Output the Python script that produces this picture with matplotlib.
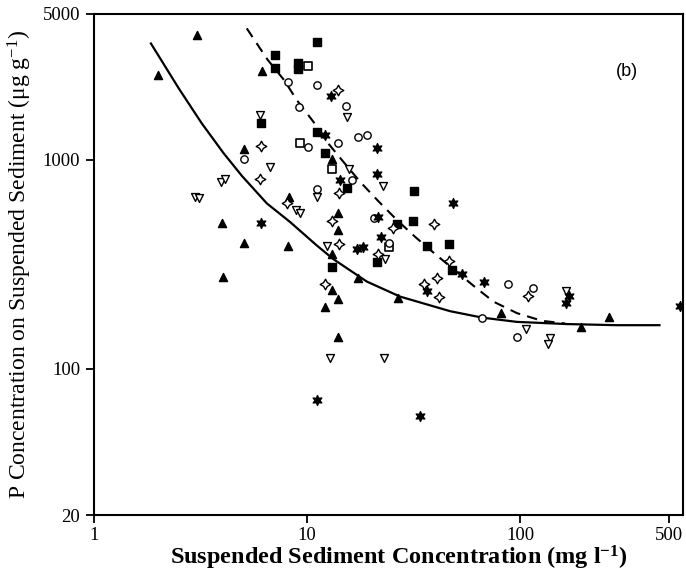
import matplotlib as mpl
import numpy as np
mpl.rcParams.update({'font.family': 'Liberation Serif', 'font.size': 12,
                     'mathtext.default': 'regular'})
from matplotlib import pyplot as plt

# filled triangles
tri_x = [3.03, 2.00, 6.13, 5.04, 13.1, 8.23, 13.98, 13.98, 13.1, 4.00, 5.06, 8.12,
         4.05, 13.1, 13.98, 12.19, 13.98, 17.36, 26.8, 81.2, 260, 193.4]
tri_y = [3960, 2548, 2664, 1124, 1006, 662, 557, 462, 355, 501, 402, 387,
         276, 239, 216, 197, 143, 271, 218, 186, 178, 159]

# filled squares
sq_x = [11.1, 7.08, 7.08, 9.10, 9.10, 6.08, 11.1, 12.19, 15.37, 13.1, 31.8, 31.55,
        26.5, 36.5, 46.1, 21.2, 47.8]
sq_y = [3678, 3176, 2754, 2918, 2714, 1497, 1356, 1083, 736, 306, 710, 510,
        492, 389, 396, 325, 297]

# open squares
osq_x = [10.14, 9.27, 13.1, 24.3]
osq_y = [2814, 1208, 905, 383]

# open circles
circ_x = [8.12, 11.1, 9.17, 13.98, 10.14, 5.04, 11.1, 15.24, 17.3, 19.19, 16.32,
          20.5, 24.3, 87.8, 114.7, 66.5, 96.5]
circ_y = [2368, 2282, 1797, 1208, 1157, 1006, 724, 1811, 1291, 1316, 802,
          526, 399, 255, 243, 176, 142]

# open down triangles
dtri_x = [6.02, 6.71, 3.95, 4.12, 2.98, 3.11, 11.1, 15.46, 15.8, 22.6, 8.88, 9.27,
          12.38, 23.2, 164, 106.7, 137.3, 134.3, 12.8, 23.0]
dtri_y = [1640, 922, 786, 808, 664, 657, 662, 1600, 905, 750, 576, 557,
          387, 336, 237, 155, 140, 132, 113, 113]

# open four-point stars
st4_x = [13.98, 6.06, 6.02, 8.03, 14.13, 13.1, 14.13, 12.15, 25.4, 39.6, 21.6,
         46.1, 40.6, 35.5, 41.4, 108.7]
st4_y = [2160, 1169, 808, 624, 695, 512, 398, 255, 474, 492, 355,
         328, 271, 254, 220, 223]

# filled six-point stars
st6_x = [12.92, 12.15, 21.2, 21.2, 14.33, 21.5, 22.2, 17.1, 18.2, 48.3, 53.2, 67.8,
         36.5, 169.8, 164, 560, 6.06, 11.14, 33.9]
st6_y = [2022, 1316, 1136, 856, 799, 531, 427, 375, 383, 624, 284, 261,
         237, 224, 208, 200, 497, 71, 59.5]

# fitted curves
solid_x = [1.85, 2.5, 3.2, 4.05, 4.94, 6.47, 8.32, 11.1, 13.3, 19.06, 27.3, 46.9,
           66.5, 96.5, 166, 284, 450]
solid_y = [3610, 2200, 1500, 1080, 840, 620, 505, 390, 335, 262, 222, 189,
           176, 168, 164, 162, 162]
dash_x = [5.21, 6.51, 7.80, 8.95, 10.7, 12.38, 14.8, 17.74, 21.5, 26.4, 32.1, 39.6,
          60.4, 74.9, 96.5, 126.5, 162.6]
dash_y = [4264, 3028, 2412, 1934, 1524, 1222, 980, 786, 638, 516, 429, 357,
          250, 210, 185, 170, 165]

fig = plt.figure(figsize=(6.86, 5.80), dpi=100)
ax = fig.add_axes([0.137, 0.112, 0.859, 0.864])
ax.set_xscale('log')
ax.set_yscale('log')

ax.plot(solid_x, solid_y, color='black', lw=1.6)
ax.plot(dash_x, dash_y, color='black', lw=1.5, dashes=(5, 3.5))

ax.scatter(tri_x, tri_y, marker='^', s=34, color='black', zorder=3)
ax.scatter(sq_x, sq_y, marker='s', s=28, color='black', zorder=3)
ax.scatter(osq_x, osq_y, marker='s', s=28, facecolor='white', edgecolor='black', lw=1.2, zorder=3)
ax.scatter(circ_x, circ_y, marker='o', s=28, facecolor='white', edgecolor='black', lw=1.0, zorder=3)
ax.scatter(dtri_x, dtri_y, marker='v', s=32, facecolor='white', edgecolor='black', lw=1.0, zorder=3)
ax.scatter(st4_x, st4_y, marker=(4, 1, 0), s=58, facecolor='white', edgecolor='black', lw=1.0, zorder=3)
ax.scatter(st6_x, st6_y, marker=(6, 1, 0), s=50, color='black', zorder=3)

ax.set_xlim(1, 582)
ax.set_ylim(20, 5000)
ax.set_xticks([1, 10, 100, 500])
ax.set_xticklabels(['1', '10', '100', '500'])
ax.set_yticks([20, 100, 1000, 5000])
ax.set_yticklabels(['20', '100', '1000', '5000'])
ax.minorticks_off()
ax.tick_params(direction='out', length=6, width=1.3, labelsize=13.5, pad=4)
ax.tick_params(axis='x', pad=2.5)
for sp in ax.spines.values():
    sp.set_linewidth(1.5)

ax.set_xlabel('Suspended Sediment Concentration (mg l$^{-1}$)', fontsize=17.5,
              fontweight='bold', labelpad=1)
ax.xaxis.set_label_coords(0.517, -0.058, transform=ax.transAxes)
ax.xaxis.label.set_va('top')
ax.set_ylabel('P Concentration on Suspended Sediment (μg g$^{-1}$)', fontsize=17,
              labelpad=6)
ax.text(0.905, 0.885, '(b)', transform=ax.transAxes, fontsize=13,
        family='Liberation Sans', ha='center', va='center')

fig.savefig('out.png', dpi=100)
